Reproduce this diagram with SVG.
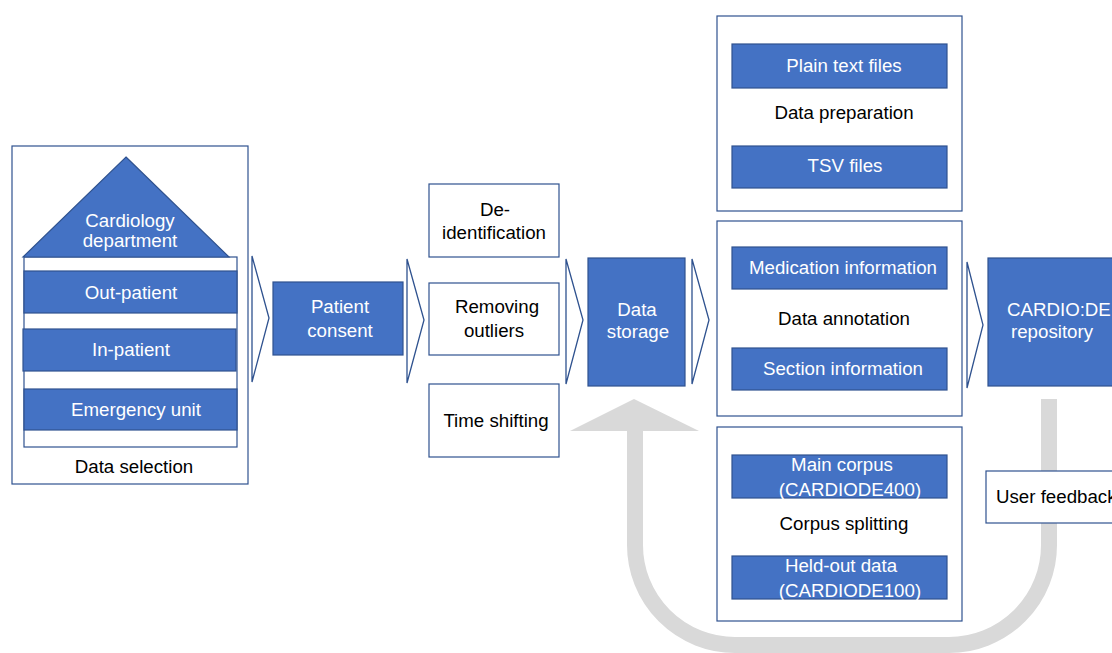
<svg xmlns="http://www.w3.org/2000/svg" width="1112" height="653" viewBox="0 0 1112 653">
  <style>
    text { font-family: "Liberation Sans", Arial, sans-serif; font-size: 18.7px; }
    .dark { fill: #000000; }
    .light { fill: #ffffff; }
    .mid { text-anchor: middle; }
    .frame { fill: #ffffff; stroke: #2F528F; stroke-width: 1.2; }
    .blue { fill: #4472C4; stroke: #2F528F; stroke-width: 1.2; }
    .chev { fill: #ffffff; stroke: #2F528F; stroke-width: 1.3; stroke-linejoin: miter; }
    .loop { fill: none; stroke: #D9D9D9; stroke-width: 16; }
  </style>

  <!-- feedback loop back to storage -->
  <g id="connectors">
    <path class="loop" d="M1049,399 V545 A100,100 0 0 1 949,645 H735 A100,100 0 0 1 635,545 V428"/>
    <polygon points="634,399 699,431 570,431" fill="#D9D9D9"/>
    <polygon class="chev" points="252,256 269,318 252,382"/>
    <polygon class="chev" points="407,259 424,320 407,383"/>
    <polygon class="chev" points="566,259 583,320 566,384"/>
    <polygon class="chev" points="692,259 709,320 692,384"/>
    <polygon class="chev" points="967,262 983,325 967,388"/>
  </g>

  <g id="data-selection">
    <rect class="frame" x="12" y="146" width="236" height="338"/>
    <rect class="frame" x="24" y="257" width="213" height="190"/>
    <polygon class="blue" points="126,157 229,257 23,257"/>
    <text class="light mid" x="130" y="227">Cardiology</text>
    <text class="light mid" x="130" y="247">department</text>
    <rect class="blue" x="24" y="271" width="213" height="42"/>
    <text class="light mid" x="131" y="299">Out-patient</text>
    <rect class="blue" x="23" y="329" width="213" height="42"/>
    <text class="light mid" x="131" y="356">In-patient</text>
    <rect class="blue" x="24" y="389" width="213" height="41"/>
    <text class="light mid" x="136" y="416">Emergency unit</text>
    <text class="dark mid" x="134" y="473">Data selection</text>
  </g>

  <g id="patient-consent">
    <rect class="blue" x="273" y="282" width="130" height="73"/>
    <text class="light mid" x="340" y="313">Patient</text>
    <text class="light mid" x="340" y="337">consent</text>
  </g>

  <g id="de-identification">
    <rect class="frame" x="429" y="184" width="130" height="73"/>
    <text class="dark mid" x="495" y="216">De-</text>
    <text class="dark mid" x="494" y="239">identification</text>
  </g>

  <g id="removing-outliers">
    <rect class="frame" x="429" y="283" width="130" height="72"/>
    <text class="dark mid" x="497" y="313">Removing</text>
    <text class="dark mid" x="494" y="337">outliers</text>
  </g>

  <g id="time-shifting">
    <rect class="frame" x="429" y="384" width="130" height="73"/>
    <text class="dark mid" x="496" y="427">Time shifting</text>
  </g>

  <g id="data-storage">
    <rect class="blue" x="588" y="258" width="97" height="128"/>
    <text class="light mid" x="637" y="316">Data</text>
    <text class="light mid" x="638" y="338">storage</text>
  </g>

  <g id="data-preparation">
    <rect class="frame" x="717" y="16" width="245" height="195"/>
    <rect class="blue" x="732" y="44" width="215" height="44"/>
    <text class="light mid" x="844" y="72">Plain text files</text>
    <text class="dark mid" x="844" y="119">Data preparation</text>
    <rect class="blue" x="732" y="146" width="215" height="42"/>
    <text class="light mid" x="845" y="172">TSV files</text>
  </g>

  <g id="data-annotation">
    <rect class="frame" x="717" y="221" width="245" height="195"/>
    <rect class="blue" x="732" y="247" width="215" height="42"/>
    <text class="light mid" x="843" y="274">Medication information</text>
    <text class="dark mid" x="844" y="325">Data annotation</text>
    <rect class="blue" x="732" y="348" width="215" height="42"/>
    <text class="light mid" x="843" y="375">Section information</text>
  </g>

  <g id="corpus-splitting">
    <rect class="frame" x="717" y="427" width="245" height="194"/>
    <rect class="blue" x="732" y="455" width="215" height="43"/>
    <text class="light mid" x="842" y="471">Main corpus</text>
    <text class="light mid" x="850" y="496">(CARDIODE400)</text>
    <text class="dark mid" x="844" y="530">Corpus splitting</text>
    <rect class="blue" x="732" y="556" width="215" height="43"/>
    <text class="light mid" x="841" y="572">Held-out data</text>
    <text class="light mid" x="850" y="597">(CARDIODE100)</text>
  </g>

  <g id="repository">
    <rect class="blue" x="988" y="258" width="140" height="128"/>
    <text class="light" x="1007" y="316">CARDIO:DE</text>
    <text class="light" x="1011" y="338">repository</text>
  </g>

  <g id="user-feedback">
    <rect class="frame" x="986" y="471" width="140" height="52"/>
    <text class="dark" x="996" y="503">User feedback</text>
  </g>
</svg>
